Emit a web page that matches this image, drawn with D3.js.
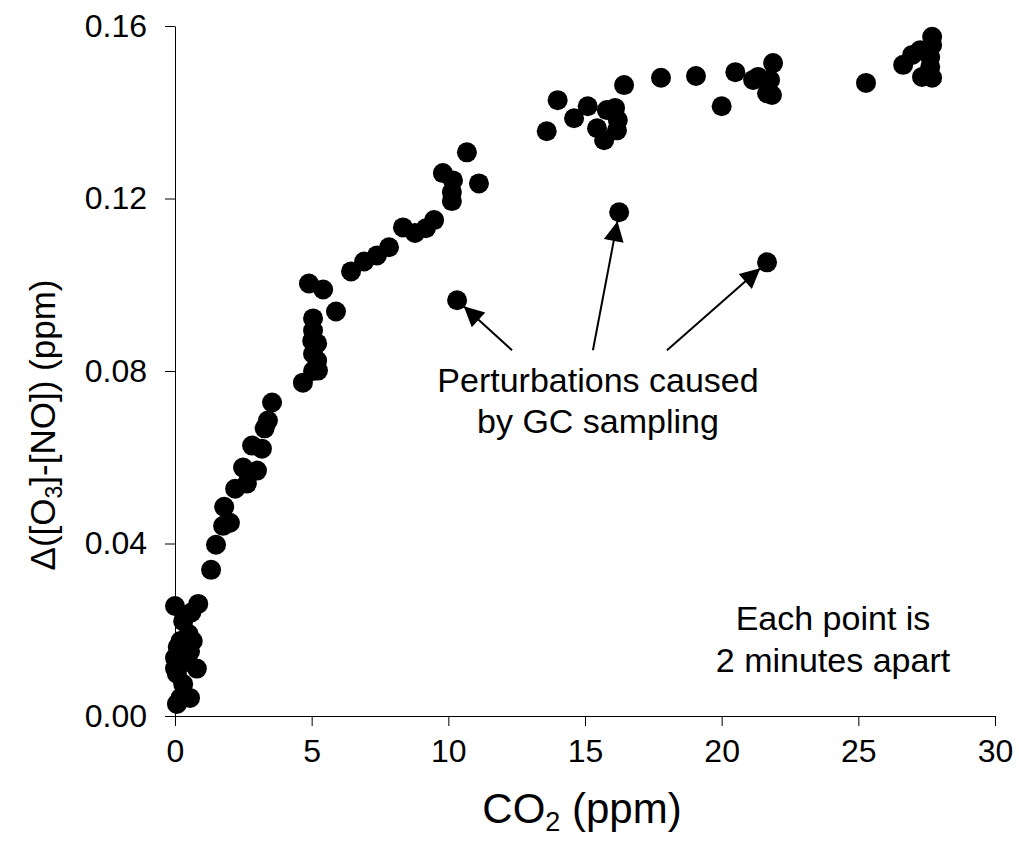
<!DOCTYPE html>
<html><head><meta charset="utf-8">
<script src="https://cdn.jsdelivr.net/npm/d3@7"></script>
<style>body{margin:0;background:#fff;} svg{display:block;}</style>
</head><body>
<svg id="chart" width="1019" height="857"></svg>
<script>
// ---- data ----
const co2 = [
  0.0,0.85,0.3,0.6,0.2,0.65,0.0,0.8,0.07,0.2,0.55,0.07,0.55,0.0,0.3,0.4,0.5,0.1,
  1.32,1.5,1.76,2.01,1.8,2.2,2.63,2.49,3.0,2.82,3.18,3.28,3.4,3.55,
  4.68,5.05,5.05,5.02,5.2,5.05,5.2,5.05,5.23,4.9,5.42,5.89,
  6.44,6.92,7.39,7.83,8.34,8.78,9.18,9.48,9.8,10.17,10.13,10.13,10.68,11.12,10.32,
  13.6,14.0,14.6,15.1,15.8,16.1,16.2,15.44,16.17,15.7,16.43,16.25,
  17.78,19.06,20.5,20.0,21.33,21.88,21.77,21.66,21.84,21.15,21.66,
  25.28,26.64,26.97,27.26,27.7,27.7,27.63,27.63,27.33,27.7
];
const deltaO3NO = [
  0.0255,0.026,0.022,0.024,0.0174,0.0174,0.0135,0.011,0.0098,0.0042,0.0042,0.0028,0.015,0.011,0.0074,0.0125,0.019,0.016,
  0.0339,0.0397,0.0441,0.0448,0.0485,0.0527,0.0539,0.0576,0.0569,0.0627,0.062,0.0667,0.0685,0.0727,
  0.0773,0.0922,0.0894,0.087,0.0864,0.084,0.0824,0.080,0.0801,0.1003,0.0989,0.0938,
  0.1031,0.1054,0.1068,0.1087,0.1133,0.112,0.1131,0.115,0.1259,0.1242,0.1215,0.1194,0.1307,0.1235,0.0964,
  0.1356,0.1428,0.1386,0.1414,0.1405,0.141,0.1382,0.1363,0.1358,0.1335,0.1463,0.1168,
  0.148,0.1484,0.1493,0.1414,0.1482,0.1514,0.1475,0.1444,0.144,0.1475,0.1052,
  0.1468,0.151,0.1533,0.1544,0.1575,0.1556,0.1528,0.1505,0.1482,0.148
];
const xTicks = [0,5,10,15,20,25,30];
const yTicks = [0,0.04,0.08,0.12,0.16];
// perturbation points (GC sampling) and arrow tails, data units
const perturbX = [10.32,16.25,21.66];
const perturbY = [0.0964,0.1168,0.1052];
const tailX = [12.33,15.29,18.0];
const tailY = [0.0848,0.0848,0.0848];
const annotLines = ["Perturbations caused","by GC sampling"];
const noteLines = ["Each point is","2 minutes apart"];

// ---- layout ----
const L = 175, R = 995, T = 26, B = 716;
const font = "Liberation Sans, Arial, sans-serif";
const svg = d3.select("#chart");
const x = d3.scaleLinear().domain([0,30]).range([L,R]);
const y = d3.scaleLinear().domain([0,0.16]).range([B,T]);

const xAxis = svg.append("g").attr("transform",`translate(0,${B})`)
  .call(d3.axisBottom(x).tickValues(xTicks).tickSize(10).tickSizeOuter(0).tickPadding(13).tickFormat(d3.format("d")));
const yAxis = svg.append("g").attr("transform",`translate(${L},0)`)
  .call(d3.axisLeft(y).tickValues(yTicks).tickSize(10).tickSizeOuter(0).tickPadding(18).tickFormat(d3.format(".2f")));
[xAxis,yAxis].forEach(g=>{
  g.selectAll("path,line").attr("stroke","#000").attr("stroke-width",1);
  g.selectAll("text").attr("font-family",font).attr("font-size",32).attr("fill","#000");
});

// points
svg.append("g").selectAll("circle").data(co2.map((d,i)=>[d,deltaO3NO[i]]))
  .join("circle").attr("cx",d=>x(d[0])).attr("cy",d=>y(d[1])).attr("r",10).attr("fill","#000");

// arrows
const defs = svg.append("defs");
defs.append("marker").attr("id","ah").attr("viewBox","0 0 10 10").attr("refX",10).attr("refY",5)
  .attr("markerWidth",24).attr("markerHeight",20).attr("markerUnits","userSpaceOnUse").attr("orient","auto")
  .append("path").attr("d","M0,0 L10,5 L0,10 Z").attr("fill","#000");
perturbX.forEach((px,i)=>{
  const x1 = x(tailX[i]), y1 = y(tailY[i]);
  const cx = x(px), cy = y(perturbY[i]);
  const dx = x1-cx, dy = y1-cy, len = Math.hypot(dx,dy);
  const x2 = cx + dx/len*9, y2 = cy + dy/len*9;
  svg.append("line").attr("x1",x1).attr("y1",y1).attr("x2",x2).attr("y2",y2)
    .attr("stroke","#000").attr("stroke-width",2).attr("marker-end","url(#ah)");
});

// annotation texts
annotLines.forEach((t,i)=>svg.append("text").attr("x",598).attr("y",392+i*41)
  .attr("text-anchor","middle").attr("font-family",font).attr("font-size",34).text(t));
noteLines.forEach((t,i)=>svg.append("text").attr("x",833).attr("y",630+i*42)
  .attr("text-anchor","middle").attr("font-family",font).attr("font-size",34).text(t));

// axis titles
const xt = svg.append("text").attr("x",582).attr("y",823).attr("text-anchor","middle")
  .attr("font-family",font).attr("font-size",42);
xt.append("tspan").text("CO");
xt.append("tspan").attr("font-size",27).attr("dy",8).text("2");
xt.append("tspan").attr("dy",-8).text(" (ppm)");

const yt = svg.append("text").attr("transform","translate(55,425) rotate(-90)").attr("text-anchor","middle")
  .attr("font-family",font).attr("font-size",35);
yt.append("tspan").text("Δ([O");
yt.append("tspan").attr("font-size",23).attr("dy",7).text("3");
yt.append("tspan").attr("dy",-7).text("]-[NO]) (ppm)");
</script>
</body></html>
